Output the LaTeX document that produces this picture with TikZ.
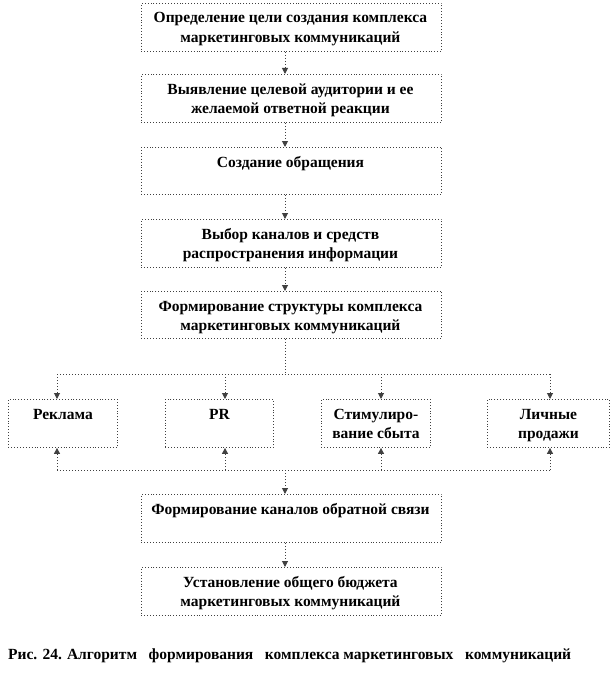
\documentclass[tikz,border=0pt]{standalone}
\usepackage{fontspec}
\setmainfont{Liberation Serif}
\usetikzlibrary{arrows.meta}
\begin{document}
\begin{tikzpicture}[x=1pt,y=1pt,
  boxst/.style={draw=black!75, dotted, line width=0.9pt, inner sep=0pt, anchor=north west},
  txt/.style={anchor=base, align=center, inner sep=0pt, font=\fontsize{15.5}{19.5}\selectfont\bfseries},
  conn/.style={draw=black!75, dotted, line width=1pt},
  arr/.style={conn, -{Triangle[width=6pt,length=6pt,fill=black!75]}}
]
\useasboundingbox (0,0) rectangle (612,-677);
% main boxes
\node[boxst, minimum width=300, minimum height=48] (b1) at (141,-3) {};
\node[boxst, minimum width=300, minimum height=48] (b2) at (141,-74) {};
\node[boxst, minimum width=300, minimum height=47] (b3) at (141,-147) {};
\node[boxst, minimum width=300, minimum height=48] (b4) at (141,-219) {};
\node[boxst, minimum width=300, minimum height=47] (b5) at (141,-291) {};
\node[boxst, minimum width=109, minimum height=48] (ra) at (8,-399) {};
\node[boxst, minimum width=108, minimum height=48] (rb) at (165,-399) {};
\node[boxst, minimum width=109, minimum height=48] (rc) at (321,-399) {};
\node[boxst, minimum width=122, minimum height=48] (rd) at (487,-399) {};
\node[boxst, minimum width=300, minimum height=48] (b6) at (141,-494) {};
\node[boxst, minimum width=300, minimum height=48] (b7) at (141,-567) {};
% texts (anchor = baseline of last line)
\node[txt] (t1) at ([xshift=-1pt,yshift=-39.5pt]b1.north) {Определение цели создания комплекса\\маркетинговых коммуникаций};
\node[txt] (t2) at ([xshift=-1pt,yshift=-39.5pt]b2.north) {Выявление целевой аудитории и ее\\желаемой ответной реакции};
\node[txt] (t3) at ([xshift=-1pt,yshift=-20pt]b3.north) {Создание обращения};
\node[txt] (t4) at ([xshift=-1pt,yshift=-39.5pt]b4.north) {Выбор каналов и средств\\распространения информации};
\node[txt] (t5) at ([xshift=-1pt,yshift=-39.5pt]b5.north) {Формирование структуры комплекса\\маркетинговых коммуникаций};
\node[txt] (ta) at ([yshift=-20pt]ra.north) {Реклама};
\node[txt] (tb) at ([yshift=-20pt]rb.north) {PR};
\node[txt] (tc) at ([yshift=-39.5pt]rc.north) {Стимулиро-\\вание сбыта};
\node[txt] (td) at ([yshift=-39.5pt]rd.north) {Личные\\продажи};
\node[txt] (t6) at ([xshift=-1pt,yshift=-20pt]b6.north) {Формирование каналов обратной связи};
\node[txt] (t7) at ([xshift=-1pt,yshift=-39.5pt]b7.north) {Установление общего бюджета\\маркетинговых коммуникаций};
% caption
\node[anchor=base west, inner sep=0pt, font=\fontsize{15.5}{18}\selectfont\bfseries] (cap) at (8,-659) {Рис. 24. Алгоритм\ \ \ формирования\ \ \ комплекса маркетинговых\ \ \ коммуникаций};
% connectors
\draw[arr] (285,0 |- b1.south) -- (285,0 |- b2.north);
\draw[arr] (285,0 |- b2.south) -- (285,0 |- b3.north);
\draw[arr] (285,0 |- b3.south) -- (285,0 |- b4.north);
\draw[arr] (285,0 |- b4.south) -- (285,0 |- b5.north);
\coordinate (hs) at (285,-374);
\coordinate (hl) at (57,-374);
\coordinate (hr) at (550,-374);
\draw[conn] (285,0 |- b5.south) -- (hs);
\draw[conn] (hl) -- (hr);
\draw[arr] (hl) -- (57,0 |- ra.north);
\draw[arr] (225,-374) -- (225,0 |- rb.north);
\draw[arr] (381,-374) -- (381,0 |- rc.north);
\draw[arr] (hr) -- (550,0 |- rd.north);
\coordinate (gl) at (57,-470);
\coordinate (gr) at (550,-470);
\draw[conn] (gl) -- (gr);
\draw[arr] (gl) -- (57,0 |- ra.south);
\draw[arr] (225,-470) -- (225,0 |- rb.south);
\draw[arr] (381,-470) -- (381,0 |- rc.south);
\draw[arr] (gr) -- (550,0 |- rd.south);
\draw[arr] (285,-470) -- (285,0 |- b6.north);
\draw[arr] (285,0 |- b6.south) -- (285,0 |- b7.north);
\end{tikzpicture}
\end{document}
